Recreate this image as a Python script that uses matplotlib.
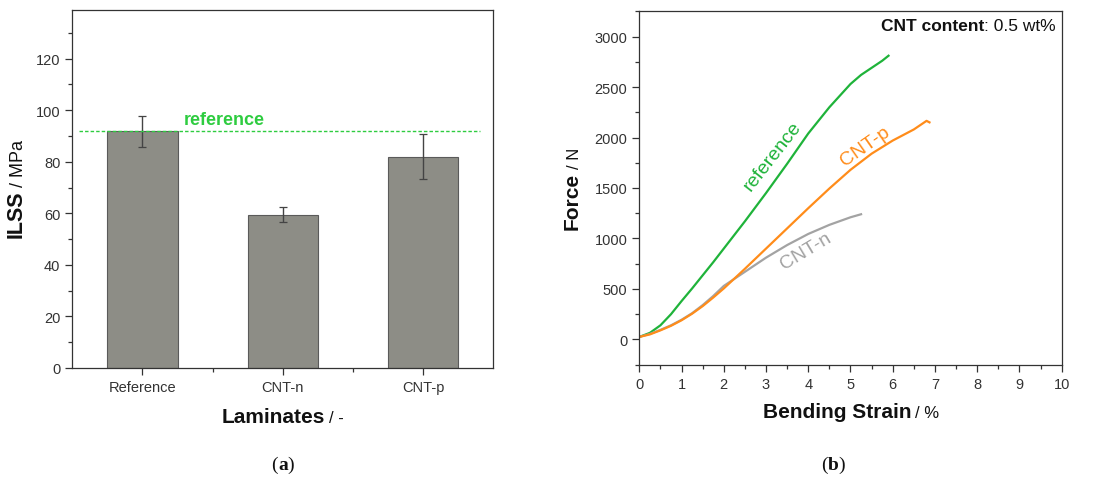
import matplotlib
matplotlib.use('Agg')
import matplotlib.pyplot as plt
from matplotlib.ticker import MultipleLocator

plt.rcParams['font.family'] = ['Liberation Sans', 'DejaVu Sans']

# ---------------- data ----------------
categories = ['Reference', 'CNT-n', 'CNT-p']
ilss_mean = [91.8, 59.5, 82.0]
ilss_err = [6.0, 3.0, 8.7]
reference_level = 91.8

strain_ref = [0, 0.25, 0.5, 0.75, 1.0, 1.25, 1.5, 1.75, 2.0, 2.5, 3.0, 3.5, 4.0, 4.5, 5.0, 5.25, 5.5, 5.75, 5.9]
force_ref = [25, 65, 140, 250, 380, 505, 635, 765, 900, 1170, 1450, 1740, 2040, 2300, 2530, 2620, 2690, 2760, 2810]

strain_p = [0, 0.25, 0.5, 0.75, 1.0, 1.25, 1.5, 1.75, 2.0, 2.5, 3.0, 3.5, 4.0, 4.5, 5.0, 5.5, 6.0, 6.5, 6.8, 6.87]
force_p = [25, 50, 90, 135, 190, 255, 330, 415, 505, 700, 900, 1100, 1300, 1495, 1680, 1840, 1970, 2080, 2165, 2150]

strain_n = [0, 0.25, 0.5, 0.75, 1.0, 1.25, 1.5, 1.75, 2.0, 2.5, 3.0, 3.5, 4.0, 4.5, 5.0, 5.25]
force_n = [25, 55, 95, 140, 195, 260, 340, 430, 530, 670, 810, 935, 1045, 1135, 1210, 1240]

# ---------------- style ----------------
GREEN = '#1fb33a'
GREEN_DASH = '#2ecc40'
ORANGE = '#ff8c1a'
GRAY = '#a3a3a3'
BAR = '#8d8d86'
AX = '#333333'

W, H = 1093, 481
fig = plt.figure(figsize=(W / 100, H / 100), dpi=100)

def style_axes(ax):
    for s in ax.spines.values():
        s.set_color(AX)
        s.set_linewidth(0.9)
    ax.tick_params(which='both', direction='out', colors=AX, labelcolor='#333333', labelsize=10.5)
    ax.tick_params(which='major', length=5, width=0.9)
    ax.tick_params(which='minor', length=3, width=0.9)
    ax.tick_params(top=False, right=False, which='both')

# ---------------- left: bar chart ----------------
axL = fig.add_axes([72.3 / W, 1 - 369 / H, 421 / W, 358.3 / H])
x = list(range(len(categories)))
axL.bar(x, ilss_mean, width=0.5, color=BAR, edgecolor='#5a5a5a', linewidth=0.8, zorder=2)
axL.errorbar(x, ilss_mean, yerr=ilss_err, fmt='none', ecolor='#444444', elinewidth=1.0,
             capsize=3, capthick=0.9, zorder=3)
axL.plot([-0.45, 2.405], [reference_level, reference_level], color=GREEN_DASH,
         linestyle=(0, (2.5, 1.5)), linewidth=1.0, zorder=4)
axL.text(0.585, 96.5, 'reference', color=GREEN_DASH, fontsize=13, fontweight='bold',
         ha='center', va='center')
axL.set_xlim(-0.5, 2.5)
axL.set_ylim(0, 139)
axL.set_xticks(x)
axL.set_xticklabels(categories)
axL.set_xticks([0.5, 1.5], minor=True)
axL.yaxis.set_major_locator(MultipleLocator(20))
axL.yaxis.set_minor_locator(MultipleLocator(10))
style_axes(axL)

# ---------------- right: curves ----------------
axR = fig.add_axes([639.3 / W, 1 - 365.7 / H, 422.4 / W, 353.4 / H])
axR.plot(strain_ref, force_ref, color=GREEN, linewidth=1.6)
axR.plot(strain_n, force_n, color=GRAY, linewidth=1.6)
axR.plot(strain_p, force_p, color=ORANGE, linewidth=1.6)
axR.text(3.16, 1818, 'reference', color=GREEN, fontsize=14, rotation=52,
         ha='center', va='center', rotation_mode='anchor')
axR.text(5.34, 1917, 'CNT-p', color=ORANGE, fontsize=14, rotation=35,
         ha='center', va='center', rotation_mode='anchor')
axR.text(3.95, 878, 'CNT-n', color=GRAY, fontsize=14, rotation=31,
         ha='center', va='center', rotation_mode='anchor')
axR.set_xlim(0, 10)
axR.set_ylim(-250, 3250)
axR.xaxis.set_major_locator(MultipleLocator(1))
axR.xaxis.set_minor_locator(MultipleLocator(0.5))
axR.yaxis.set_major_locator(MultipleLocator(500))
axR.yaxis.set_minor_locator(MultipleLocator(250))
style_axes(axR)

# ---------------- mixed-weight labels ----------------
fig.canvas.draw()
renderer = fig.canvas.get_renderer()

def mixed(cx, cy, bold, reg, vertical=False, sb=15, sr=12, gap=4):
    """cx, cy in image pixel coordinates (origin top-left)."""
    rot = 90 if vertical else 0
    t1 = fig.text(0, 0, bold, fontsize=sb, fontweight='bold', rotation=rot,
                  transform=None, ha='left', va='baseline', color='#111111')
    t2 = fig.text(0, 0, reg, fontsize=sr, rotation=rot, transform=None,
                  ha='left', va='baseline', color='#111111')
    e1 = t1.get_window_extent(renderer)
    e2 = t2.get_window_extent(renderer)
    dy = H - cy
    if not vertical:
        total = e1.width + gap + e2.width
        x0 = cx - total / 2
        base = dy - 6
        t1.set_position((x0, base))
        t2.set_position((x0 + e1.width + gap, base))
    else:
        total = e1.height + gap + e2.height
        y0 = dy - total / 2
        base = cx + 6
        t1.set_ha('right'); t2.set_ha('right')
        t1.set_va('bottom'); t2.set_va('bottom')
        t1.set_position((base, y0))
        t2.set_position((base, y0 + e1.height + gap))

mixed(21, 189, 'ILSS', '/ MPa', vertical=True, sb=15.5, sr=13)
mixed(283, 417, 'Laminates', '/ -')
mixed(576, 189, 'Force', '/ N', vertical=True)
mixed(851, 412, 'Bending Strain', '/ %')

# top-right annotation
t1 = fig.text(0, 0, 'CNT content', fontsize=12.5, fontweight='bold', transform=None,
              ha='left', va='center', color='#111111')
t2 = fig.text(0, 0, ': 0.5 wt%', fontsize=12.5, transform=None, ha='left', va='center',
              color='#111111')
e1 = t1.get_window_extent(renderer)
e2 = t2.get_window_extent(renderer)
right_edge = 1056
ycen = H - 27
t2.set_position((right_edge - e2.width, ycen))
t1.set_position((right_edge - e2.width - e1.width, ycen))

# panel captions
def caption(cx, cy, letter):
    parts = [('(', 'normal'), (letter, 'bold'), (')', 'normal')]
    texts = [fig.text(0, 0, s, fontsize=14, family='Liberation Serif', fontweight=w,
                      transform=None, ha='left', va='baseline', color='#111111')
             for s, w in parts]
    widths = [t.get_window_extent(renderer).width for t in texts]
    xcur = cx - sum(widths) / 2
    for t, w in zip(texts, widths):
        t.set_position((xcur, H - cy - 5))
        xcur += w

caption(283, 465, 'a')
caption(833, 465, 'b')

fig.savefig('out.png', dpi=100)
